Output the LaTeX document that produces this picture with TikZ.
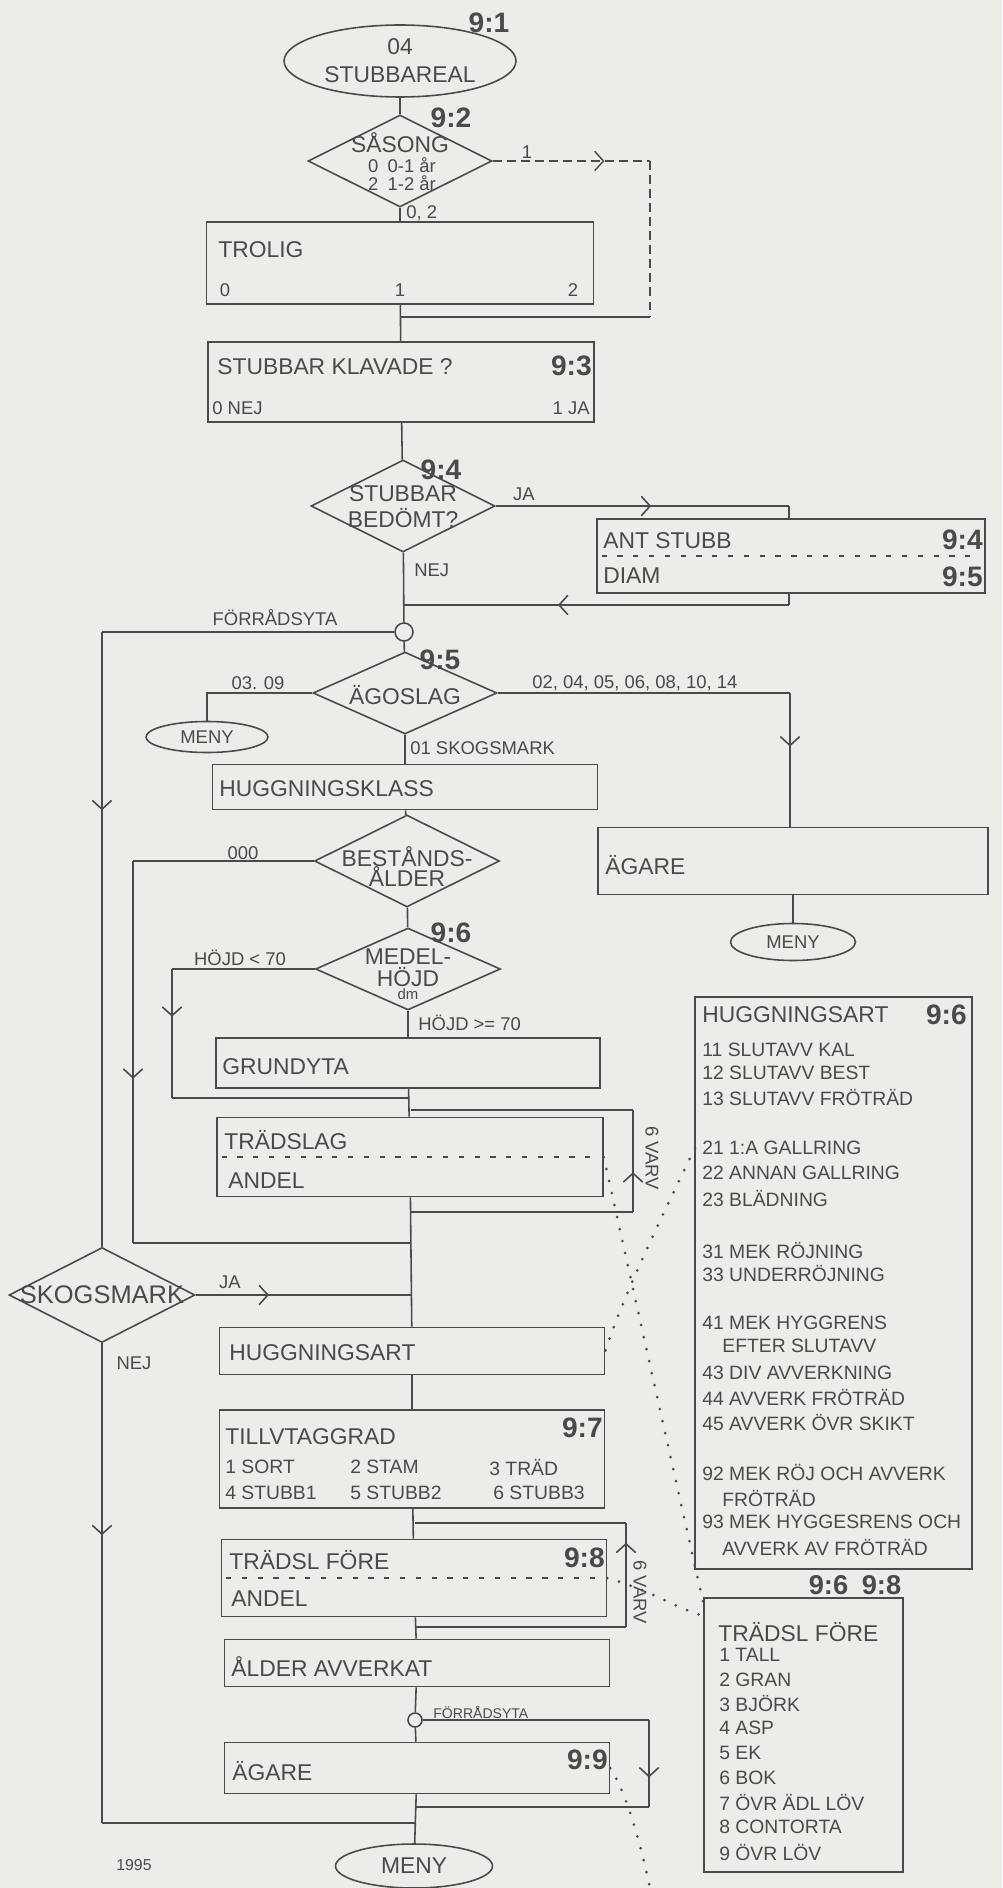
\documentclass[tikz,border=0pt]{standalone}
\usepackage{fontspec}
\setmainfont{Liberation Sans}
\usetikzlibrary{shapes.geometric,arrows.meta,decorations.markings}

\definecolor{paper}{RGB}{236,236,233}
\definecolor{ink}{RGB}{74,74,74}

\begin{document}
\begin{tikzpicture}[x=0.02cm, y=-0.02cm, color=ink,
    flow/.style={line width=0.9pt},
    hint/.style={line width=0.8pt, dash pattern=on 5pt off 3pt},
    dots/.style={line width=1.7pt, line cap=round, dash pattern=on 0pt off 7pt},
    divider/.style={line width=0.7pt, dash pattern=on 3pt off 6pt},
    chevron/.style={postaction={decorate}, decoration={markings,
        mark=at position #1 with {\arrow{Straight Barb[length=5pt,width=11pt]}}}},
    box/.style={draw, line width=0.9pt, rectangle, inner sep=0pt},
    decision/.style={draw, line width=0.9pt, diamond, inner sep=0pt},
    term/.style={draw, line width=0.9pt, ellipse, inner sep=0pt, font=\fontsize{13}{15}\selectfont},
    joint/.style={draw, line width=0.9pt, circle, inner sep=0pt},
    txt/.style={inner sep=0pt, font=\fontsize{13}{15}\selectfont},
    lbl/.style={inner sep=0pt, font=\fontsize{10.5}{12}\selectfont},
    code/.style={inner sep=0pt, font=\bfseries\fontsize{16}{18}\selectfont},
    item/.style={inner sep=0pt, anchor=west, font=\fontsize{11}{13}\selectfont},
  ]
  \fill[paper] (0,0) rectangle (1002,1888);
  \useasboundingbox (0,0) rectangle (1002,1888);

  % stubbareal, season, probable
  \node[term, minimum width=4.64cm, minimum height=1.44cm, align=center] (start) at (400,61) {04\\[1pt]STUBBAREAL};
  \node[code] (c91) at (489,23) {9:1};
  \node[decision, minimum width=3.68cm, minimum height=1.84cm] (sasong) at (400,161) {};
  \node[txt] (sasongT) at (400,143) {SÅSONG};
  \node[lbl] (sasongA) at (402,165) {0\enspace 0-1 år};
  \node[lbl] (sasongB) at (402,183) {2\enspace 1-2 år};
  \node[code] (c92) at (451,118) {9:2};
  \node[lbl, anchor=west] (lbl02) at (406,213) {0, 2};
  \node[lbl] (lbl1) at (527,152) {1};

  \node[box, minimum width=7.74cm, minimum height=1.64cm] (trolig) at (400,263) {};
  \node[txt, anchor=west] (troligT) at (218,250) {TROLIG};
  \node[lbl] (trolig0) at (225,290) {0};
  \node[lbl] (trolig1) at (400,290) {1};
  \node[lbl] (trolig2) at (573,290) {2};

  \node[box, minimum width=7.72cm, minimum height=1.6cm] (klavade) at (401,382) {};
  \node[txt, anchor=west] (klavadeT) at (217,367) {STUBBAR KLAVADE ?};
  \node[code, anchor=east] (c93) at (592,366) {9:3};
  \node[lbl, anchor=west] (klavade0) at (212,408) {0 NEJ};
  \node[lbl, anchor=east] (klavade1) at (590,408) {1 JA};

  % stumps judged
  \node[decision, minimum width=3.68cm, minimum height=1.84cm] (bedomt) at (403,506) {};
  \node[txt] (bedomtA) at (403,494) {STUBBAR};
  \node[txt] (bedomtB) at (403,518) {BEDÖMT?};
  \node[code] (c94) at (441,470) {9:4};
  \node[lbl] (lblja) at (524,494) {JA};
  \node[lbl, anchor=west] (lblnej) at (414,570) {NEJ};

  \node[box, minimum width=7.76cm, minimum height=1.48cm] (ant) at (791,556) {};
  \node[txt, anchor=west] (antA) at (603,541) {ANT STUBB};
  \node[txt, anchor=west] (antB) at (603,576) {DIAM};
  \node[code, anchor=east] (c94b) at (983,540) {9:4};
  \node[code, anchor=east] (c95b) at (983,577) {9:5};

  \node[joint, minimum size=0.36cm] (stock) at (404,632) {};
  \node[lbl] (stockT) at (275,618) {FÖRRÅDSYTA};

  % land class
  \node[decision, minimum width=3.68cm, minimum height=1.64cm] (agoslag) at (405,693) {};
  \node[txt] (agoslagT) at (405,695) {ÄGOSLAG};
  \node[code] (c95) at (440,660) {9:5};
  \node[lbl] (lbl0309) at (258,683) {03. 09};
  \node[lbl, anchor=west] (lblrest) at (532,683) {02, 04, 05, 06, 08, 10, 14};
  \node[lbl, anchor=west] (lbl01) at (410,748) {01 SKOGSMARK};
  \node[term, minimum width=2.44cm, minimum height=0.62cm, font=\fontsize{10.5}{12}\selectfont] (menyL) at (207,737) {MENY};

  \node[box, minimum width=7.8cm, minimum height=1.34cm] (agareR) at (793,861) {};
  \node[txt, anchor=west] (agareRT) at (605,865) {ÄGARE};
  \node[term, minimum width=2.5cm, minimum height=0.74cm, font=\fontsize{10.5}{12}\selectfont] (menyR) at (793,942) {MENY};

  \node[box, minimum width=7.7cm, minimum height=0.9cm] (hklass) at (405,787) {};
  \node[txt, anchor=west] (hklassT) at (219,789) {HUGGNINGSKLASS};

  \node[decision, minimum width=3.7cm, minimum height=1.84cm] (balder) at (407,861) {};
  \node[txt] (balderA) at (407,857) {BESTÅNDS-};
  \node[txt] (balderB) at (407,877) {ÅLDER};
  \node[lbl] (lbl000) at (243,853) {000};

  \node[decision, minimum width=3.7cm, minimum height=1.64cm] (medel) at (408,969) {};
  \node[txt] (medelA) at (408,957) {MEDEL-};
  \node[txt] (medelB) at (408,977) {HÖJD};
  \node[inner sep=0pt, font=\fontsize{8.5}{10}\selectfont] (medelC) at (408,994) {dm};
  \node[code] (c96) at (451,933) {9:6};
  \node[lbl] (lbllow) at (240,958) {HÖJD < 70};
  \node[lbl, anchor=west] (lblhigh) at (418,1023) {HÖJD >= 70};

  \node[box, minimum width=7.68cm, minimum height=1cm] (grund) at (408,1063) {};
  \node[txt, anchor=west] (grundT) at (222,1067) {GRUNDYTA};

  \node[box, minimum width=7.72cm, minimum height=1.58cm] (trad) at (410,1157) {};
  \node[txt, anchor=west] (tradA) at (224,1140) {TRÄDSLAG};
  \node[txt, anchor=west] (tradB) at (228,1181) {ANDEL};
  \node[lbl, rotate=-90] (varv1) at (652,1158) {6 VARV};

  \node[decision, minimum width=3.72cm, minimum height=1.9cm] (skog) at (102,1295) {};
  \node[inner sep=0pt, font=\fontsize{14.5}{16}\selectfont] (skogT) at (102,1295) {SKOGSMARK};
  \node[lbl] (lblja2) at (230,1282) {JA};
  \node[lbl] (lblnej2) at (134,1363) {NEJ};

  % cutting, ownership
  \node[box, minimum width=7.7cm, minimum height=0.94cm] (huggart) at (412,1351) {};
  \node[txt, anchor=west] (huggartT) at (229,1353) {HUGGNINGSART};

  \node[box, minimum width=7.7cm, minimum height=1.96cm] (tillv) at (412,1459) {};
  \node[txt, anchor=west] (tillvT) at (225,1437) {TILLVTAGGRAD};
  \node[code, anchor=east] (c97) at (603,1428) {9:7};
  \foreach \x/\y/\t in {225/1467/1 SORT, 350/1467/2 STAM, 489/1467/3 TRÄD,
                        225/1493/4 STUBB1, 350/1493/5 STUBB2, 493/1493/6 STUBB3}
    \node[item] (tv\x\y) at (\x,\y) {\t};

  \node[box, minimum width=7.7cm, minimum height=1.54cm] (tradf) at (414,1578) {};
  \node[txt, anchor=west] (tradfA) at (229,1560) {TRÄDSL FÖRE};
  \node[txt, anchor=west] (tradfB) at (231,1599) {ANDEL};
  \node[code, anchor=east] (c98) at (605,1558) {9:8};
  \node[lbl, rotate=-90] (varv2) at (640,1592) {6 VARV};

  \node[box, minimum width=7.7cm, minimum height=0.94cm] (alder) at (417,1663) {};
  \node[txt, anchor=west] (alderT) at (231,1667) {ÅLDER AVVERKAT};

  \node[joint, minimum size=0.28cm] (stock2) at (415,1720) {};
  \node[inner sep=0pt, anchor=west, font=\fontsize{8}{9}\selectfont] (stock2T) at (433,1712) {FÖRRÅDSYTA};

  \node[box, minimum width=7.7cm, minimum height=1.02cm] (agare) at (417,1768) {};
  \node[txt, anchor=west] (agareT) at (232,1771) {ÄGARE};
  \node[code, anchor=east] (c99) at (608,1760) {9:9};

  \node[term, minimum width=3.14cm, minimum height=0.88cm] (menyB) at (414,1866) {MENY};
  \node[inner sep=0pt, font=\fontsize{9}{10}\selectfont] (year) at (134,1865) {1995};

  % code lists
  \node[box, minimum width=5.54cm, minimum height=11.44cm] (hlist) at (833.5,1283) {};
  \node[txt, anchor=west] (hlistT) at (702,1015) {HUGGNINGSART};
  \node[code, anchor=east] (c96b) at (967,1015) {9:6};
  \foreach \x/\y/\t in {702/1050/11 SLUTAVV KAL, 702/1073/12 SLUTAVV BEST,
      702/1097/13 SLUTAVV FRÖTRÄD, 702/1148/21 1:A GALLRING,
      702/1173/22 ANNAN GALLRING, 702/1198/23 BLÄDNING,
      702/1250/31 MEK RÖJNING, 702/1273/33 UNDERRÖJNING,
      702/1323/41 MEK HYGGRENS, 722/1346/EFTER SLUTAVV,
      702/1373/43 DIV AVVERKNING, 702/1397/44 AVVERK FRÖTRÄD,
      702/1422/45 AVVERK ÖVR SKIKT, 702/1472/92 MEK RÖJ OCH AVVERK,
      722/1498/FRÖTRÄD, 702/1522/93 MEK HYGGESRENS OCH,
      722/1547/AVVERK AV FRÖTRÄD}
    \node[item] (ha\y) at (\x,\y) {\t};

  \node[code, font=\bfseries\fontsize{15.5}{17}\selectfont] (c9698) at (855,1585) {9:6\enspace 9:8};
  \node[box, minimum width=3.98cm, minimum height=5.48cm] (tlist) at (803.5,1735) {};
  \node[txt, anchor=west] (tlistT) at (718,1632) {TRÄDSL FÖRE};
  \foreach \y/\t in {1655/1 TALL, 1680/2 GRAN, 1703/3 BJÖRK, 1728/4 ASP, 1753/5 EK,
                     1778/6 BOK, 1802/7 ÖVR ÄDL LÖV, 1827/8 CONTORTA, 1852/9 ÖVR LÖV}
    \node[item] (ts\y) at (719,\y) {\t};

  % junction points
  \coordinate (s1a) at (650,161);
  \coordinate (s1b) at (650,317);
  \coordinate (j1) at (400,317);
  \coordinate (jaC) at (789,506);
  \coordinate (retA) at (789,605);
  \coordinate (retB) at (404,605);
  \coordinate (stockL) at (102,632);
  \coordinate (agoL) at (207,693);
  \coordinate (agoR) at (790,693);
  \coordinate (b0a) at (133,861);
  \coordinate (b0b) at (133,1243);
  \coordinate (j3) at (411,1243);
  \coordinate (m7a) at (172,969);
  \coordinate (m7b) at (172,1098);
  \coordinate (j2) at (408,1098);
  \coordinate (l1a) at (411,1212);
  \coordinate (l1b) at (633,1212);
  \coordinate (l1c) at (633,1110);
  \coordinate (l1d) at (411,1110);
  \coordinate (j4) at (411,1295);
  \coordinate (skogB) at (102,1823);
  \coordinate (j5) at (415,1823);
  \coordinate (l2a) at (415,1627);
  \coordinate (l2b) at (626,1627);
  \coordinate (l2c) at (626,1523);
  \coordinate (l2d) at (415,1523);
  \coordinate (c2a) at (649,1720);
  \coordinate (c2b) at (649,1807);
  \coordinate (j6) at (415,1807);
  \coordinate (dA) at (695,1148);
  \coordinate (dB) at (704,1606);
  \coordinate (dC) at (704,1616);
  \coordinate (dD) at (650,1888);

  % main line
  \draw[flow] (start) -- (sasong);
  \draw[flow] (sasong) -- (trolig);
  \draw[flow] (trolig) -- (klavade);
  \draw[flow] (klavade) -- (bedomt);
  \draw[flow] (bedomt) -- (stock);
  \draw[flow] (stock) -- (agoslag);
  \draw[flow] (agoslag) -- (hklass);
  \draw[flow] (hklass) -- (balder);
  \draw[flow] (balder) -- (medel);
  \draw[flow] (medel) -- (grund);
  \draw[flow] (grund) -- (trad);
  \draw[flow] (trad) -- (huggart);
  \draw[flow] (huggart) -- (tillv);
  \draw[flow] (tillv) -- (tradf);
  \draw[flow] (tradf) -- (alder);
  \draw[flow] (alder) -- (stock2);
  \draw[flow] (stock2) -- (agare);
  \draw[flow] (agare) -- (menyB);

  % branches
  \draw[hint, chevron=0.71] (sasong.east) -- (s1a);
  \draw[hint] (s1a) -- (s1b);
  \draw[flow] (s1b) -- (j1);
  \draw[flow, chevron=0.53] (bedomt.east) -- (jaC);
  \draw[flow] (jaC) -- (jaC |- ant.north);
  \draw[flow] (ant.south -| retA) -- (retA);
  \draw[flow, chevron=0.6] (retA) -- (retB);
  \draw[divider] ([xshift=3pt]ant.west) -- ([xshift=-3pt]ant.east);
  \draw[flow] (stock.west) -- (stockL);
  \draw[flow, chevron=0.29] (stockL) -- (skog.north);
  \draw[flow] (agoslag.west) -- (agoL) -- (menyL);
  \draw[flow] (agoslag.east) -- (agoR);
  \draw[flow, chevron=0.4] (agoR) -- (agoR |- agareR.north);
  \draw[flow] (agareR) -- (menyR);
  \draw[flow] (balder.west) -- (b0a);
  \draw[flow, chevron=0.57] (b0a) -- (b0b);
  \draw[flow] (b0b) -- (j3);
  \draw[flow] (medel.west) -- (m7a);
  \draw[flow, chevron=0.37] (m7a) -- (m7b);
  \draw[flow] (m7b) -- (j2);
  \draw[divider] ([xshift=3pt]trad.west) -- ([xshift=-3pt]trad.east);
  \draw[flow] (l1a) -- (l1b);
  \draw[flow, chevron=0.39] (l1b) -- (l1c);
  \draw[flow] (l1c) -- (l1d);
  \draw[flow, chevron=0.34] (skog.east) -- (j4);
  \draw[flow, chevron=0.4] (skog.south) -- (skogB);
  \draw[flow] (skogB) -- (j5);
  \draw[divider] ([xshift=3pt]tradf.west) -- ([xshift=-3pt]tradf.east);
  \draw[flow] (l2a) -- (l2b);
  \draw[flow, chevron=0.81] (l2b) -- (l2c);
  \draw[flow] (l2c) -- (l2d);
  \draw[flow] (stock2.east) -- (c2a);
  \draw[flow, chevron=0.66] (c2a) -- (c2b);
  \draw[flow] (c2b) -- (j6);

  % links to the code lists
  \draw[dots] (dA) .. controls (655,1230) and (622,1300) .. (huggart.east);
  \draw[dots] (trad.east) .. controls (640,1320) and (680,1500) .. (dB);
  \draw[dots] (tradf.east) .. controls (650,1590) and (680,1610) .. (dC);
  \draw[dots] (agare.east) .. controls (625,1790) and (640,1840) .. (dD);
\end{tikzpicture}
\end{document}
